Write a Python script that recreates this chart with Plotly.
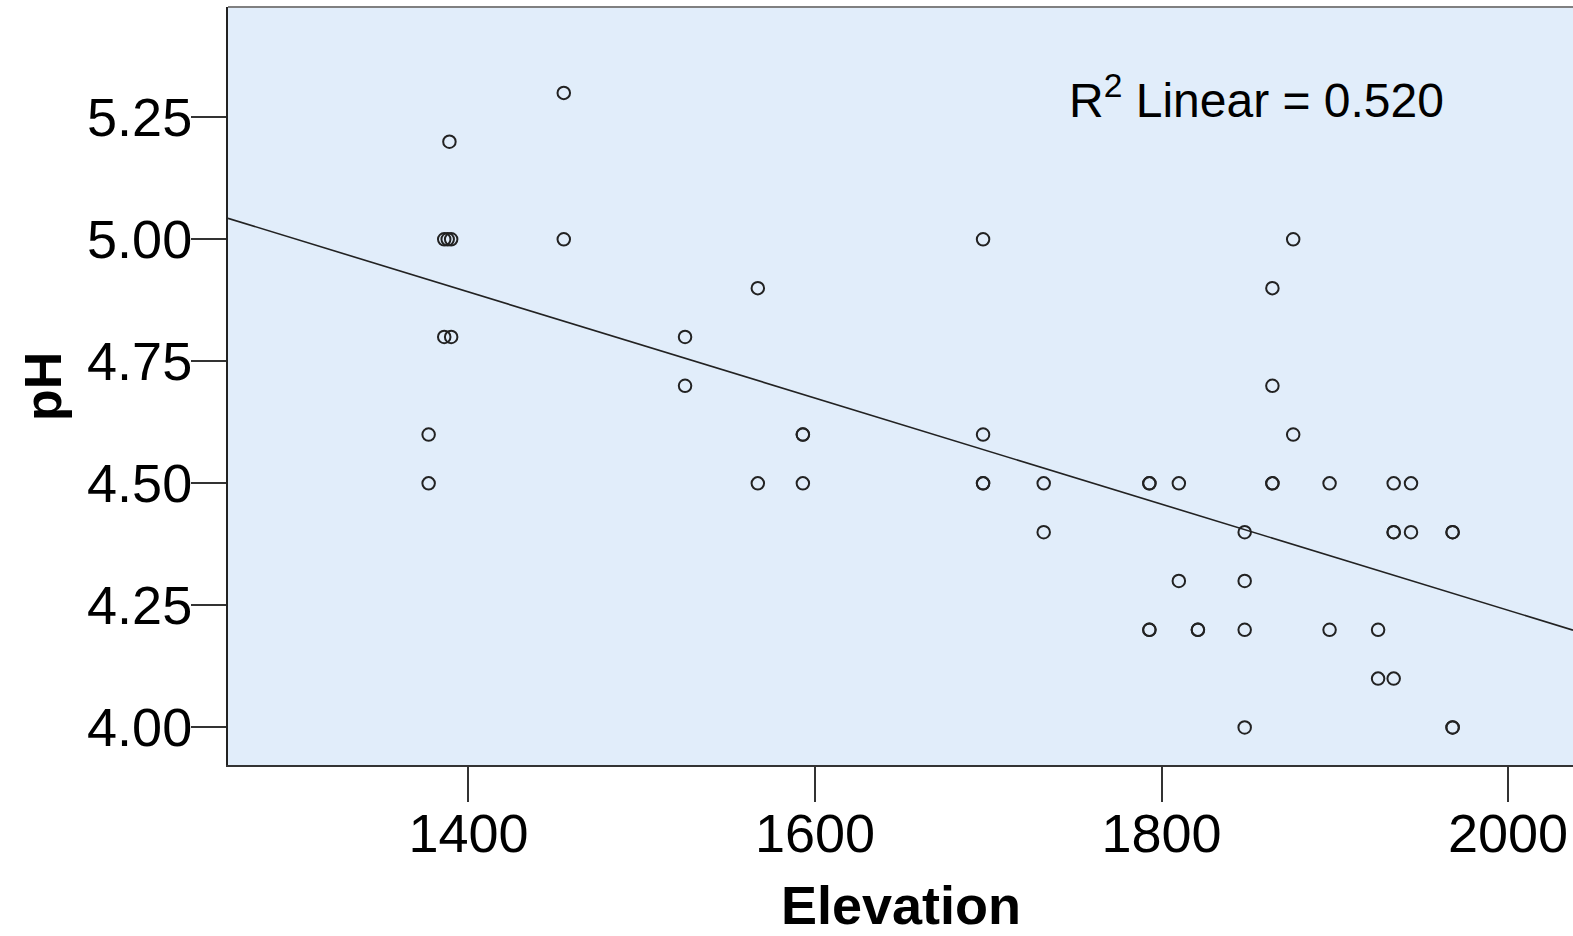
import numpy as np
import plotly.graph_objects as go

# Data (Elevation vs pH)
elevation = [
    1455,                                   # pH 5.3
    1389,                                   # pH 5.2
    1386, 1388, 1390, 1455, 1697, 1876,     # pH 5.0
    1567, 1864,                             # pH 4.9
    1386, 1390, 1525,                       # pH 4.8
    1525, 1864,                             # pH 4.7
    1377, 1593, 1593, 1697, 1876,           # pH 4.6
    1377, 1567, 1593, 1697, 1697, 1732, 1793, 1793, 1810, 1864, 1864, 1897, 1934, 1944,  # pH 4.5
    1732, 1848, 1934, 1934, 1944, 1968, 1968,  # pH 4.4
    1810, 1848,                             # pH 4.3
    1793, 1793, 1821, 1821, 1848, 1897, 1925,  # pH 4.2
    1925, 1934,                             # pH 4.1
    1848, 1968, 1968,                       # pH 4.0
]
ph = (
    [5.3] + [5.2] + [5.0] * 6 + [4.9] * 2 + [4.8] * 3 + [4.7] * 2 + [4.6] * 5
    + [4.5] * 14 + [4.4] * 7 + [4.3] * 2 + [4.2] * 7 + [4.1] * 2 + [4.0] * 3
)

# Linear fit line as drawn in the reference
fit_slope = -0.001087
fit_intercept = 6.414

x_ticks = [1400, 1600, 1800, 2000]
y_ticks = [4.00, 4.25, 4.50, 4.75, 5.00, 5.25]
x_range = [1261.2, 2037.5]
y_range = [3.923, 5.476]
r2_label = "R<sup>2</sup> Linear = 0.520"

fit_x = np.array(x_range)
fit_y = fit_intercept + fit_slope * fit_x

FONT = "Arial, Liberation Sans, sans-serif"
INK = "#222222"

fig = go.Figure()
fig.add_trace(go.Scatter(
    x=fit_x, y=fit_y, mode="lines",
    line=dict(color=INK, width=1.6),
    hoverinfo="skip", showlegend=False,
))
fig.add_trace(go.Scatter(
    x=elevation, y=ph, mode="markers",
    marker=dict(symbol="circle-open", size=12.5, color=INK, line=dict(width=2)),
    showlegend=False,
))

fig.update_layout(
    width=1573, height=936,
    margin=dict(l=228, r=0, t=7, b=171, pad=0),
    paper_bgcolor="white",
    plot_bgcolor="rgb(225,237,250)",
    font=dict(family=FONT, color="black"),
    xaxis=dict(
        range=x_range, tickvals=x_ticks, ticks="outside", ticklen=35,
        tickwidth=1.5, tickcolor="#333333", showline=True, linecolor="#333333",
        linewidth=2, showgrid=False, zeroline=False, ticklabelstandoff=-15,
        tickfont=dict(size=54, family=FONT, color="black"),
    ),
    yaxis=dict(
        range=y_range, tickvals=y_ticks, tickformat=".2f", ticks="outside",
        ticklen=35, tickwidth=1.5, tickcolor="#333333", showline=True,
        linecolor="#222222", linewidth=2, showgrid=False, zeroline=False,
        ticklabelstandoff=-12,
        tickfont=dict(size=54, family=FONT, color="black"),
    ),
    shapes=[dict(type="line", xref="paper", yref="paper", x0=0, x1=1, y0=1, y1=1,
                 line=dict(color="#808080", width=2))],
    annotations=[
        dict(text=r2_label, x=1855, y=5.292, xref="x", yref="y", showarrow=False,
             xanchor="center", yanchor="middle", font=dict(size=48, family=FONT, color="black")),
        dict(text="<b>pH</b>", x=-0.1376, y=0.5, xref="paper", yref="paper", showarrow=False,
             textangle=-90, xanchor="center", yanchor="middle",
             font=dict(size=52, family=FONT, color="black")),
        dict(text="<b>Elevation</b>", x=0.5, y=-0.185, xref="paper", yref="paper", showarrow=False,
             xanchor="center", yanchor="middle",
             font=dict(size=54, family=FONT, color="black")),
    ],
)

fig.write_html("out.html", config={"displayModeBar": False},
               post_script="document.body.style.margin='0';document.body.style.overflow='hidden';")
